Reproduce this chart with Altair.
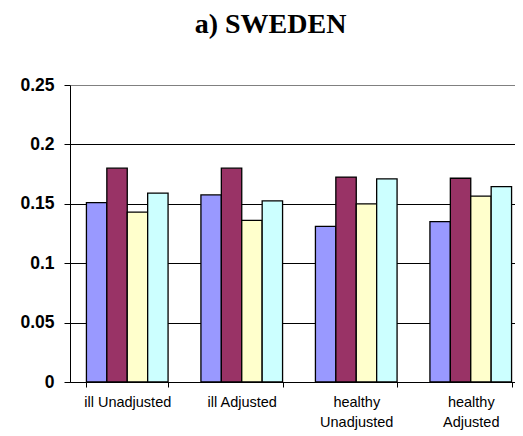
import altair as alt
import pandas as pd

categories = ["ill Unadjusted", "ill Adjusted", "healthy Unadjusted", "healthy Adjusted"]
series = ["Series1", "Series2", "Series3", "Series4"]
values = {
    "Series1": [0.151, 0.1575, 0.131, 0.135],
    "Series2": [0.180, 0.180, 0.1725, 0.1715],
    "Series3": [0.143, 0.136, 0.150, 0.1565],
    "Series4": [0.159, 0.1525, 0.171, 0.1645],
}
colors = ["#9999FF", "#993366", "#FFFFCC", "#CCFFFF"]

rows = []
for s in series:
    for c, v in zip(categories, values[s]):
        rows.append({"group": c, "series": s, "value": v})
df = pd.DataFrame(rows)

chart = alt.Chart(df).mark_bar(stroke="black", strokeWidth=1.3).encode(
    x=alt.X("group:N", sort=categories,
            scale=alt.Scale(paddingInner=0.287, paddingOuter=0.1435, range=[0, 458]),
            axis=alt.Axis(title=None, labelAngle=0, tickBand="extent", domainColor="black",
                          tickColor="black", tickSize=5, labelPadding=8,
                          labelFont="Liberation Sans", labelFontSize=14.5, labelColor="black",
                          labelLineHeight=20, labelBaseline="top",
                          labelExpr="indexof(datum.label, 'healthy') == 0 ? split(datum.label, ' ') : datum.label")),
    xOffset=alt.XOffset("series:N", sort=series, scale=alt.Scale(paddingInner=0, paddingOuter=0)),
    y=alt.Y("value:Q", scale=alt.Scale(domain=[0, 0.25], nice=False),
            axis=alt.Axis(title=None, values=[0, 0.05, 0.1, 0.15, 0.2, 0.25],
                          labelExpr="datum.value == 0 ? '0' : format(datum.value, '.2~f')",
                          domainColor="black", tickColor="black", tickSize=6, labelPadding=10,
                          labelFont="Liberation Sans", labelFontSize=17.5, labelFontWeight="bold",
                          labelColor="black",
                          gridColor={"condition": {"test": "datum.value >= 0.25", "value": "#808080"}, "value": "black"},
                          gridWidth=1.2)),
    color=alt.Color("series:N", sort=series, scale=alt.Scale(domain=series, range=colors), legend=None),
).properties(
    width=445, height=297,
    title=alt.TitleParams("a) SWEDEN", font="Liberation Serif", fontSize=28, fontWeight="bold",
                          color="black", anchor="middle", frame="group", dx=-22, offset=37),
    autosize=alt.AutoSizeParams(type="none"),
    padding={"left": 62, "top": 77, "right": 0, "bottom": 54},
).configure_view(stroke=None)

chart.save("out.html", embed_options={"renderer": "svg", "actions": False})
